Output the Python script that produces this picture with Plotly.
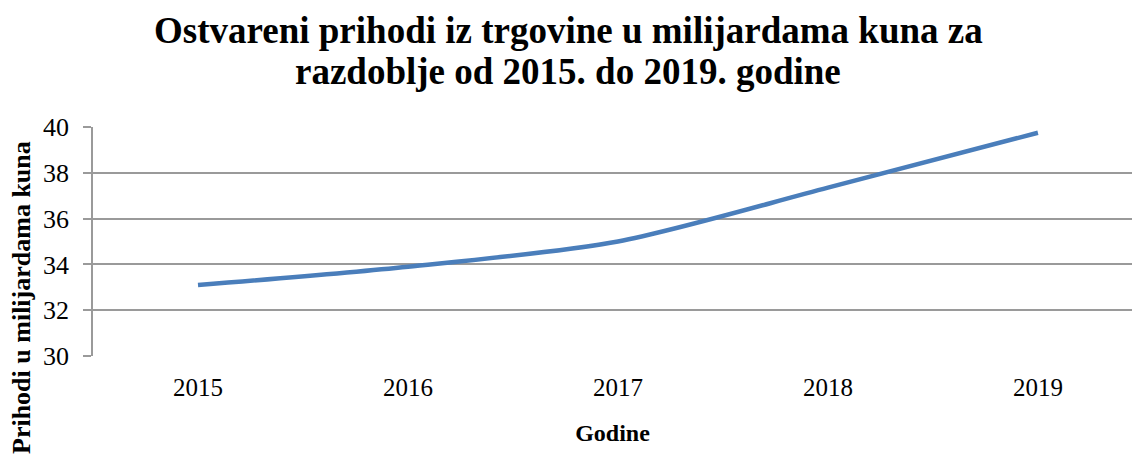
import plotly.graph_objects as go

years = ["2015", "2016", "2017", "2018", "2019"]
revenue = [33.1, 33.9, 35.0, 37.35, 39.75]
y_ticks = [30, 32, 34, 36, 38, 40]

title_lines = ["Ostvareni prihodi iz trgovine u milijardama kuna za",
               "razdoblje od 2015. do 2019. godine"]
x_title = "Godine"
y_title = "Prihodi u milijardama kuna"

FONT = "Liberation Serif, Times New Roman, serif"
GRID = "#9a9a9a"

fig = go.Figure()
fig.add_trace(go.Scatter(
    x=list(range(len(years))), y=revenue, mode="lines",
    line=dict(color="#4A7EBB", width=4.5, shape="spline", smoothing=0.8),
    hoverinfo="x+y",
))

W, H = 1132, 454
ml, mr, mt, mb = 93, 0, 127, 98
PW, PH = W - ml - mr, H - mt - mb


def px_to_paper_x(px):
    return (px - ml) / PW


def px_to_paper_y(py):
    return (H - mb - py) / PH


annotations = []
for line, cy in zip(title_lines, [31, 71]):
    annotations.append(dict(
        text="<b>" + line + "</b>", xref="paper", yref="paper",
        x=px_to_paper_x(568), y=px_to_paper_y(cy),
        xanchor="center", yanchor="middle", showarrow=False,
        font=dict(family=FONT, size=37, color="black"),
    ))
annotations.append(dict(
    text="<b>" + y_title + "</b>", textangle=-90,
    xref="paper", yref="paper",
    x=px_to_paper_x(21), y=px_to_paper_y(298),
    xanchor="center", yanchor="middle", showarrow=False,
    font=dict(family=FONT, size=26, color="black"),
))

fig.update_layout(
    width=W, height=H,
    margin=dict(l=ml, r=mr, t=mt, b=mb),
    paper_bgcolor="white", plot_bgcolor="white",
    showlegend=False,
    font=dict(family=FONT, color="black", size=25),
    xaxis=dict(
        range=[-0.5, 4.448], tickmode="array",
        tickvals=list(range(len(years))), ticktext=years,
        showgrid=False, zeroline=False, showline=False,
        ticks="", ticklabelstandoff=14,
        tickfont=dict(family=FONT, size=25),
        title=dict(text="<b>" + x_title + "</b>", standoff=24,
                   font=dict(family=FONT, size=24)),
        fixedrange=True,
    ),
    yaxis=dict(
        range=[30, 40], tickmode="array", tickvals=y_ticks,
        showgrid=True, gridcolor=GRID, gridwidth=1.5,
        zeroline=False, showline=True, linecolor=GRID, linewidth=1.5,
        ticks="outside", ticklen=8, tickcolor=GRID, tickwidth=1.5,
        ticklabelstandoff=9,
        tickfont=dict(family=FONT, size=26),
        fixedrange=True,
    ),
    annotations=annotations,
)

fig.write_html("out.html")
